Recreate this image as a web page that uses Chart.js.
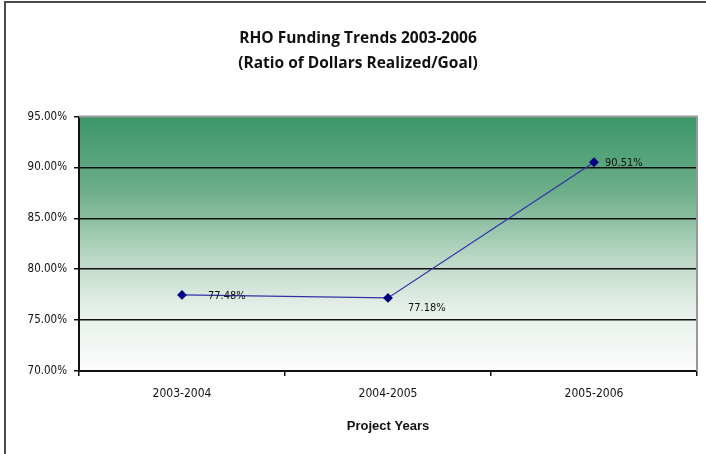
<!DOCTYPE html>
<html>
<head>
<meta charset="utf-8">
<title>RHO Funding Trends</title>
<script src="https://cdn.jsdelivr.net/npm/chart.js@4"></script>
<style>
  body { margin: 0; background: #fff; }
  #wrap { position: relative; width: 706px; height: 454px; }
  #frame { position: absolute; left: 4px; top: 1px; right: 0; bottom: 0;
           border-left: 2px solid #4a4a4a; border-top: 2px solid #4a4a4a; }
  #grafico { position: absolute; left: 0; top: 0; }
</style>
</head>
<body>
<div id="wrap">
  <div id="frame"></div>
  <canvas id="grafico" width="706" height="454"></canvas>
</div>
<script>
// años de proyecto y razón de dólares logrados / meta
const anios = ["2003-2004", "2004-2005", "2005-2006"];
const razon = [77.48, 77.18, 90.51];
const ticksY = [70, 75, 80, 85, 90, 95];
const titulo = ["RHO Funding Trends 2003-2006", "(Ratio of Dollars Realized/Goal)"];

const fuenteChica = "'Liberation Sans Narrow', 'DejaVu Sans Condensed', Arial, sans-serif";

// fondo degradado verde dentro del area del grafico + bordes grises
const fondoPlugin = {
  id: "fondo",
  beforeDraw(chart) {
    const { ctx, chartArea: a } = chart;
    const g = ctx.createLinearGradient(0, a.top, 0, a.bottom);
    g.addColorStop(0, "rgb(58,150,104)");
    g.addColorStop(0.3, "rgb(110,175,138)");
    g.addColorStop(0.55, "rgb(185,215,197)");
    g.addColorStop(0.75, "rgb(228,239,232)");
    g.addColorStop(1, "rgb(252,252,252)");
    ctx.save();
    ctx.fillStyle = g;
    ctx.fillRect(a.left, a.top, a.right - a.left, a.bottom - a.top);
    ctx.restore();
  },
  afterDatasetsDraw(chart) {
    const { ctx, chartArea: a } = chart;
    ctx.save();
    ctx.strokeStyle = "#9a9a9a";
    ctx.lineWidth = 2;
    ctx.beginPath();
    ctx.moveTo(a.left, a.top);
    ctx.lineTo(a.right, a.top);
    ctx.lineTo(a.right, a.bottom);
    ctx.stroke();
    ctx.restore();
  }
};

// etiquetas de valor junto a cada punto
const etiquetasPlugin = {
  id: "etiquetas",
  afterDatasetsDraw(chart) {
    const { ctx } = chart;
    const puntos = chart.getDatasetMeta(0).data;
    const desplaz = [[26, 1], [20, 10], [11, 1]];
    ctx.save();
    ctx.font = "11px " + fuenteChica;
    ctx.fillStyle = "#111";
    ctx.textBaseline = "middle";
    puntos.forEach((p, i) => {
      ctx.fillText(razon[i].toFixed(2) + "%", p.x + desplaz[i][0], p.y + desplaz[i][1]);
    });
    ctx.restore();
  }
};

const config = {
  type: "line",
  data: {
    labels: anios,
    datasets: [{
      data: razon,
      borderColor: "rgb(50,50,165)",
      borderWidth: 1.3,
      pointStyle: "rectRot",
      pointRadius: 4,
      pointBackgroundColor: "rgb(0,0,128)",
      pointBorderColor: "rgb(0,0,128)",
      tension: 0
    }]
  },
  options: {
    responsive: false,
    animation: false,
    devicePixelRatio: 1,
    layout: { padding: { top: 26, left: 19, right: 9, bottom: 16 } },
    plugins: {
      legend: { display: false },
      tooltip: { enabled: false },
      title: {
        display: true,
        text: titulo,
        color: "#111",
        font: { family: "'Open Sans', 'Liberation Sans', Arial, sans-serif", size: 15.5, weight: "bold", lineHeight: 1.6 },
        padding: { top: 0, bottom: 41 }
      }
    },
    scales: {
      x: {
        offset: true,
        border: { color: "#111", width: 2 },
        grid: { offset: true, drawOnChartArea: false, color: "#111", tickLength: 5, lineWidth: 1.5 },
        ticks: { color: "#111", padding: 11, font: { family: fuenteChica, size: 12 } },
        title: {
          display: true,
          text: "Project Years",
          color: "#111",
          font: { family: "'Liberation Sans', Arial, sans-serif", size: 13, weight: "bold" },
          padding: { top: 6, bottom: 4 }
        }
      },
      y: {
        min: ticksY[0],
        max: ticksY[ticksY.length - 1],
        afterBuildTicks: (eje) => { eje.ticks = ticksY.map((v) => ({ value: v })); },
        afterFit: (eje) => { eje.width = 60; },
        border: { color: "#111", width: 2 },
        grid: {
          color: (c) => (c.tick && c.tick.value === 95 ? "rgba(0,0,0,0)" : "#111"),
          tickColor: "#111",
          lineWidth: 1.5,
          tickLength: 5
        },
        ticks: {
          color: "#111",
          padding: 7,
          font: { family: fuenteChica, size: 11.5 },
          callback: (v) => Number(v).toFixed(2) + "%"
        }
      }
    }
  },
  plugins: [fondoPlugin, etiquetasPlugin]
};

new Chart(document.getElementById("grafico"), config);
</script>
</body>
</html>
